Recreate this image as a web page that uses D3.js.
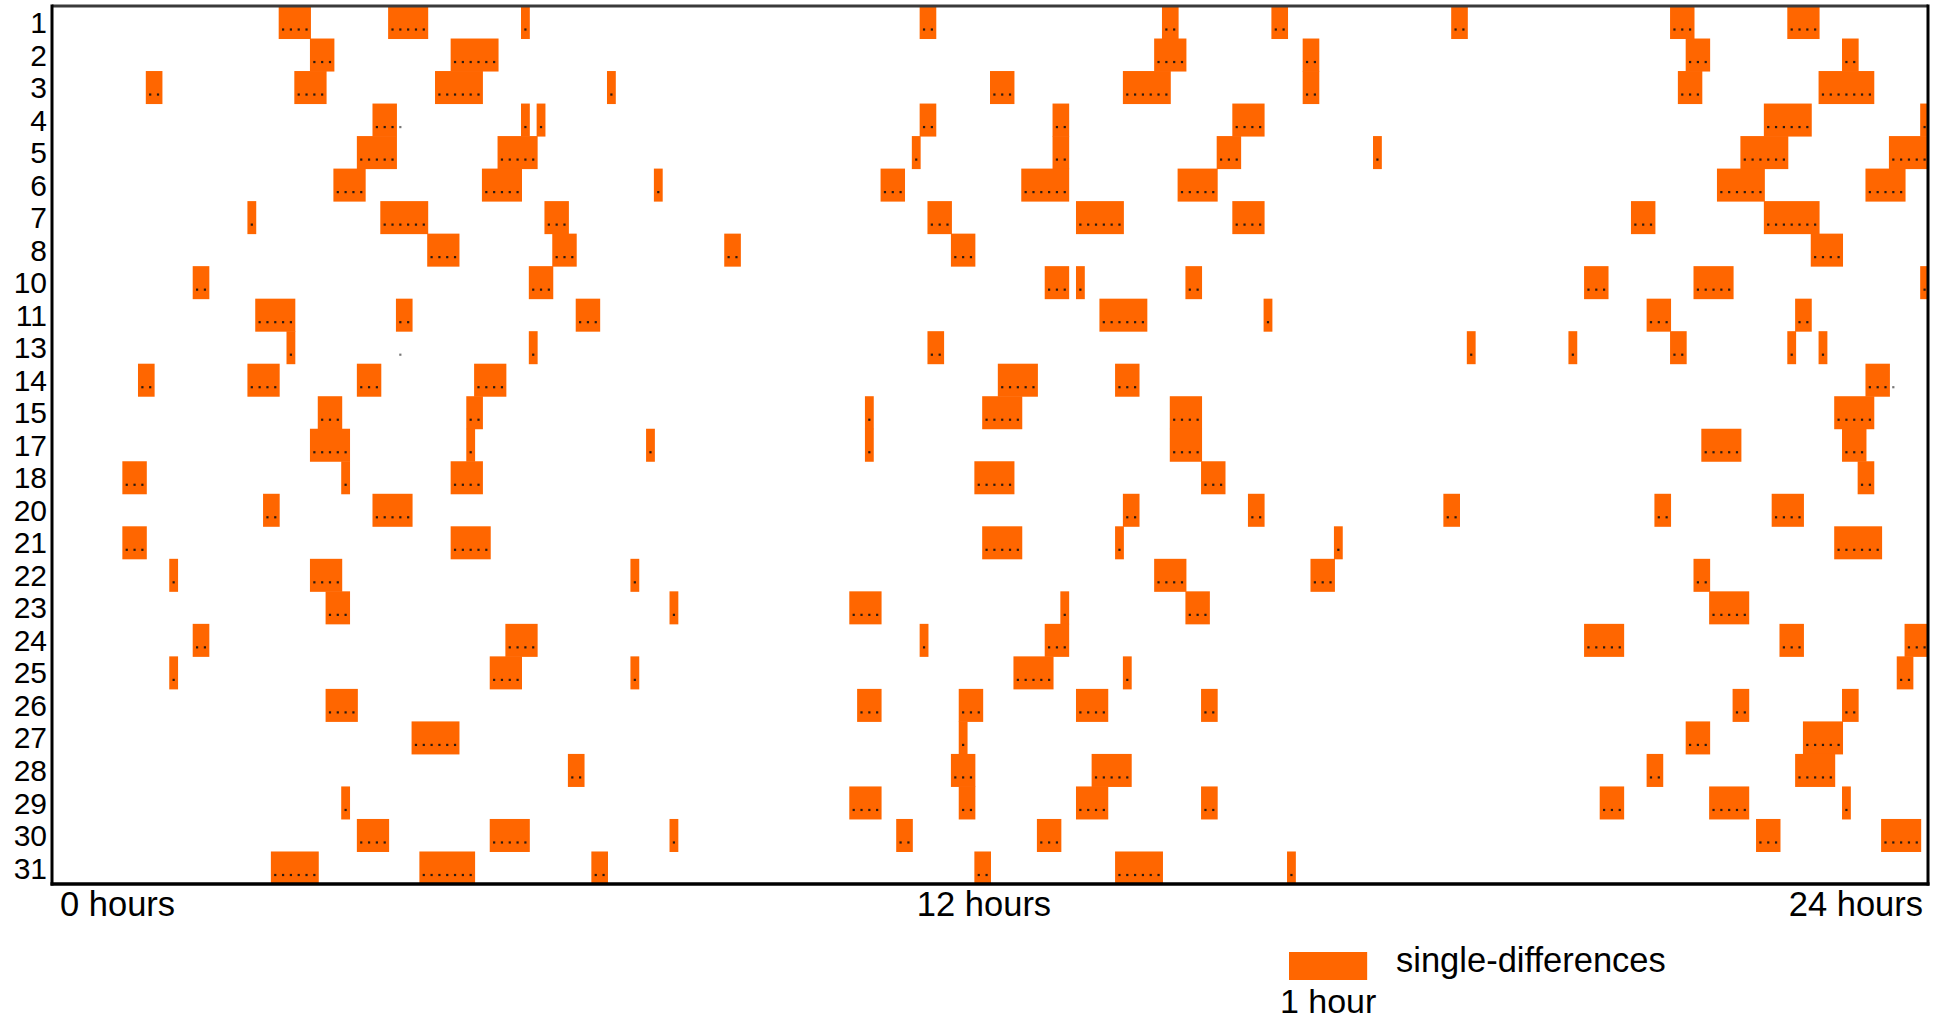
<!DOCTYPE html>
<html>
<head>
<meta charset="utf-8">
<script src="https://cdn.jsdelivr.net/npm/d3@7"></script>
<style>
    body { margin: 0; background: #fff; }
    svg { display: block; }
    text { font-family: "Liberation Sans", Arial, Helvetica, sans-serif; fill: #000; }
</style>
</head>
<body>
<div id="chart"></div>
<script>
// day-of-month rows (missing days have no data)
let rowLabels = ["1","2","3","4","5","6","7","8","10","11","13","14","15","17","18",
                 "20","21","22","23","24","25","26","27","28","29","30","31"];

// one list per row: [start hour, number of 6-minute epochs]
let passes = [
    [[2.9,4],[4.3,5],[6.0,1],[11.1,2],[14.2,2],[15.6,2],[17.9,2],[20.7,3],[22.2,4]],
    [[3.3,3],[5.1,6],[14.1,4],[16.0,2],[20.9,3],[22.9,2]],
    [[1.2,2],[3.1,4],[4.9,6],[7.1,1],[12.0,3],[13.7,6],[16.0,2],[20.8,3],[22.6,7]],
    [[4.1,3],[6.0,1],[6.2,1],[11.1,2],[12.8,2],[15.1,4],[21.9,6],[23.9,1]],
    [[3.9,5],[5.7,5],[11.0,1],[12.8,2],[14.9,3],[16.9,1],[21.6,6],[23.5,5]],
    [[3.6,4],[5.5,5],[7.7,1],[10.6,3],[12.4,6],[14.4,5],[21.3,6],[23.2,5]],
    [[2.5,1],[4.2,6],[6.3,3],[11.2,3],[13.1,6],[15.1,4],[20.2,3],[21.9,7]],
    [[4.8,4],[6.4,3],[8.6,2],[11.5,3],[22.5,4]],
    [[1.8,2],[6.1,3],[12.7,3],[13.1,1],[14.5,2],[19.6,3],[21.0,5],[23.9,1]],
    [[2.6,5],[4.4,2],[6.7,3],[13.4,6],[15.5,1],[20.4,3],[22.3,2]],
    [[3.0,1],[6.1,1],[11.2,2],[18.1,1],[19.4,1],[20.7,2],[22.2,1],[22.6,1]],
    [[1.1,2],[2.5,4],[3.9,3],[5.4,4],[12.1,5],[13.6,3],[23.2,3]],
    [[3.4,3],[5.3,2],[10.4,1],[11.9,5],[14.3,4],[22.8,5]],
    [[3.3,5],[5.3,1],[7.6,1],[10.4,1],[14.3,4],[21.1,5],[22.9,3]],
    [[0.9,3],[3.7,1],[5.1,4],[11.8,5],[14.7,3],[23.1,2]],
    [[2.7,2],[4.1,5],[13.7,2],[15.3,2],[17.8,2],[20.5,2],[22.0,4]],
    [[0.9,3],[5.1,5],[11.9,5],[13.6,1],[16.4,1],[22.8,6]],
    [[1.5,1],[3.3,4],[7.4,1],[14.1,4],[16.1,3],[21.0,2]],
    [[3.5,3],[7.9,1],[10.2,4],[12.9,1],[14.5,3],[21.2,5]],
    [[1.8,2],[5.8,4],[11.1,1],[12.7,3],[19.6,5],[22.1,3],[23.7,3]],
    [[1.5,1],[5.6,4],[7.4,1],[12.3,5],[13.7,1],[23.6,2]],
    [[3.5,4],[10.3,3],[11.6,3],[13.1,4],[14.7,2],[21.5,2],[22.9,2]],
    [[4.6,6],[11.6,1],[20.9,3],[22.4,5]],
    [[6.6,2],[11.5,3],[13.3,5],[20.4,2],[22.3,5]],
    [[3.7,1],[10.2,4],[11.6,2],[13.1,4],[14.7,2],[19.8,3],[21.2,5],[22.9,1]],
    [[3.9,4],[5.6,5],[7.9,1],[10.8,2],[12.6,3],[21.8,3],[23.4,5]],
    [[2.8,6],[4.7,7],[6.9,2],[11.8,2],[13.6,6],[15.8,1]]
];

// lone epochs with no bar: [row label, epoch start hour]
let strayEpochs = [["4",4.4],["13",4.4],["14",23.5]];

let hourTicks = [0, 12, 24];
let hourLabels = ["0 hours", "12 hours", "24 hours"];
let epoch = 0.1; // hours

let width = 1952, height = 1021;
let plot = {left: 52, right: 1928, top: 6, bottom: 884};

let svg = d3.select("#chart").append("svg")
    .attr("width", width)
    .attr("height", height);

let x = d3.scaleLinear().domain([0, 24]).range([plot.left, plot.right]);
let y = d3.scaleBand().domain(rowLabels).range([plot.top, plot.bottom]).padding(0);

svg.append("clipPath").attr("id", "plotclip")
    .append("rect")
    .attr("x", plot.left).attr("y", plot.top)
    .attr("width", plot.right - plot.left).attr("height", plot.bottom - plot.top);

let g = svg.append("g").attr("clip-path", "url(#plotclip)");

// flatten to one record per bar
let bars = [];
passes.forEach(function(list, i) {
    list.forEach(function(p) {
        bars.push({row: rowLabels[i], start: p[0], n: p[1]});
    });
});

g.selectAll("rect.bar")
    .data(bars)
    .enter().append("rect")
    .attr("class", "bar")
    .attr("x", d => x(d.start))
    .attr("y", d => y(d.row))
    .attr("width", d => x(d.start + d.n * epoch) - x(d.start) + 1)
    .attr("height", y.bandwidth() + 0.5)
    .attr("fill", "#ff6600");

// epoch markers
let dots = [];
bars.forEach(function(b) {
    for (let k = 0; k < b.n; k++) {
        dots.push({row: b.row, t: b.start + (k + 0.55) * epoch, stray: false});
    }
});
strayEpochs.forEach(function(s) {
    dots.push({row: s[0], t: s[1] + 0.55 * epoch, stray: true});
});

g.selectAll("rect.dot")
    .data(dots)
    .enter().append("rect")
    .attr("class", "dot")
    .attr("x", d => x(d.t) - 1)
    .attr("y", d => y(d.row) + y.bandwidth() * 0.72 - 1)
    .attr("width", 2.2)
    .attr("height", 2.2)
    .attr("fill", d => d.stray ? "#777" : "#2a1a10");

// frame
svg.append("line")
    .attr("x1", plot.left).attr("x2", plot.right)
    .attr("y1", plot.top).attr("y2", plot.top)
    .attr("stroke", "#3a3a3a").attr("stroke-width", 3);
svg.append("line")
    .attr("x1", plot.left).attr("x2", plot.left)
    .attr("y1", plot.top - 1.5).attr("y2", plot.bottom + 1.5)
    .attr("stroke", "#000").attr("stroke-width", 3);
svg.append("line")
    .attr("x1", plot.right).attr("x2", plot.right)
    .attr("y1", plot.top - 1.5).attr("y2", plot.bottom + 1.5)
    .attr("stroke", "#000").attr("stroke-width", 3);
svg.append("line")
    .attr("x1", plot.left - 1.5).attr("x2", plot.right + 1.5)
    .attr("y1", plot.bottom).attr("y2", plot.bottom)
    .attr("stroke", "#000").attr("stroke-width", 3.5);

// row labels
let yAxis = svg.append("g")
    .attr("transform", "translate(" + (plot.left - 2) + ",0)")
    .call(d3.axisLeft(y).tickSize(0).tickPadding(3));
yAxis.select(".domain").remove();
yAxis.selectAll("text")
    .style("font-size", "30px")
    .style("font-family", "'Liberation Sans', Arial, sans-serif")
    .attr("fill", "#000")
    .attr("dy", "0.36em");

// hour labels
let anchors = ["start", "middle", "end"];
let offsets = [8, -6, -5];
svg.selectAll("text.hour")
    .data(hourTicks)
    .enter().append("text")
    .attr("class", "hour")
    .attr("x", (d, i) => x(d) + offsets[i])
    .attr("y", 916)
    .attr("text-anchor", (d, i) => anchors[i])
    .style("font-size", "34.5px")
    .text((d, i) => hourLabels[i]);

// legend: swatch is exactly one hour wide
let legendX = 1289;
svg.append("rect")
    .attr("x", legendX)
    .attr("y", 952)
    .attr("width", x(1) - x(0))
    .attr("height", 28)
    .attr("fill", "#ff6600");
svg.append("text")
    .attr("x", 1396)
    .attr("y", 972)
    .style("font-size", "34.5px")
    .text("single-differences");
svg.append("text")
    .attr("x", legendX + (x(1) - x(0)) / 2)
    .attr("y", 1013)
    .attr("text-anchor", "middle")
    .style("font-size", "34px")
    .text("1 hour");
</script>
</body>
</html>
